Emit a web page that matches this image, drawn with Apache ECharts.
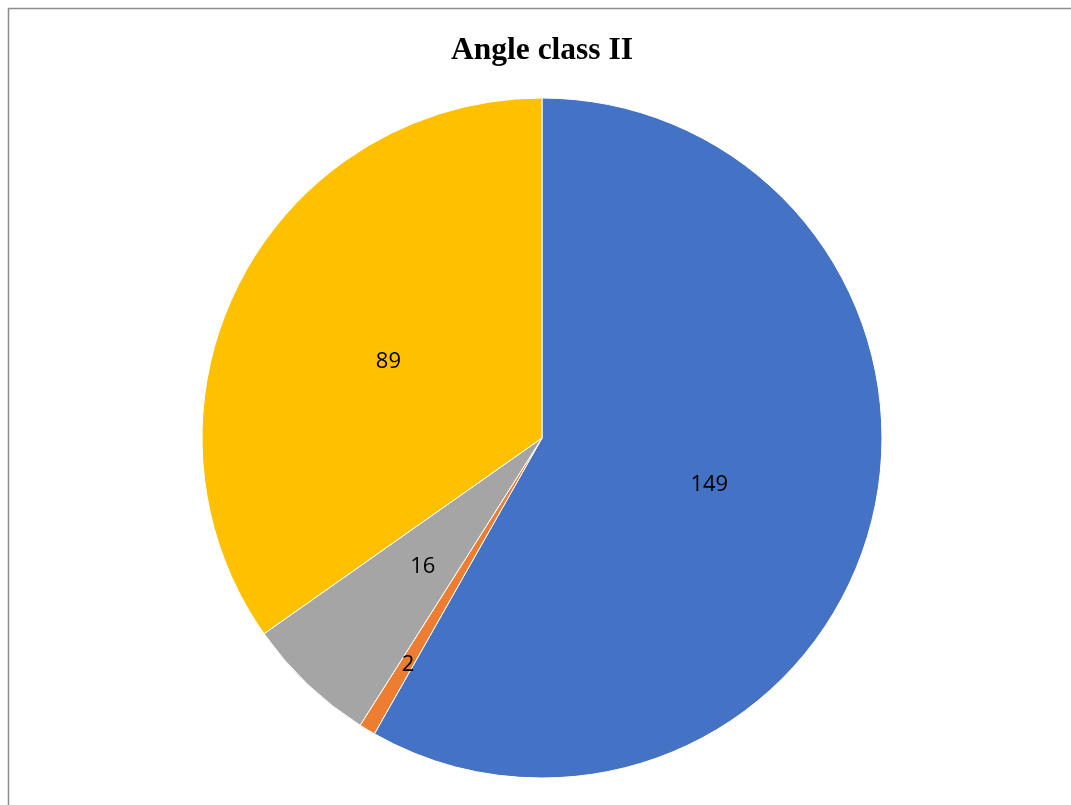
<!DOCTYPE html>
<html><head><meta charset="utf-8">
<script src="https://cdn.jsdelivr.net/npm/echarts@6/dist/echarts.min.js"></script>
<style>html,body{margin:0;padding:0;background:#fff}#c{width:1071px;height:805px}</style>
</head><body><div id="c"></div>
<script>
const categories = ['A', 'B', 'C', 'D'];
const values = [149, 2, 16, 89];
const colors = ['#4472C4', '#ED7D31', '#A5A5A5', '#FFC000'];
const titleText = 'Angle class II';

const chart = echarts.init(document.getElementById('c'), null, {renderer: 'canvas'});
chart.setOption({
  animation: false,
  backgroundColor: '#fff',
  graphic: [{
    type: 'rect', shape: {x: 8.5, y: 8.5, width: 1100, height: 850},
    style: {fill: 'none', stroke: '#8c8c8c', lineWidth: 1.5}, silent: true, z: -1
  }],
  title: {
    text: titleText, left: 446, top: 30,
    textStyle: {fontFamily: 'Liberation Serif', fontWeight: 'bold', fontSize: 31.5, color: '#000'}
  },
  series: [{
    type: 'pie',
    center: [542, 438],
    radius: [0, 340],
    startAngle: 90,
    clockwise: true,
    label: {show: true, position: 'inside', color: '#000', fontSize: 22, fontFamily: 'Open Sans', formatter: '{c}'},
    labelLine: {show: false},
    labelLayout: function (p) { return p.dataIndex === 1 ? {dx: -45, dy: 78} : {dy: 3}; },
    itemStyle: {borderColor: '#fff', borderWidth: 1},
    emphasis: {disabled: true},
    data: categories.map((c, i) => ({name: c, value: values[i], itemStyle: {color: colors[i]}}))
  }]
});
</script></body></html>
